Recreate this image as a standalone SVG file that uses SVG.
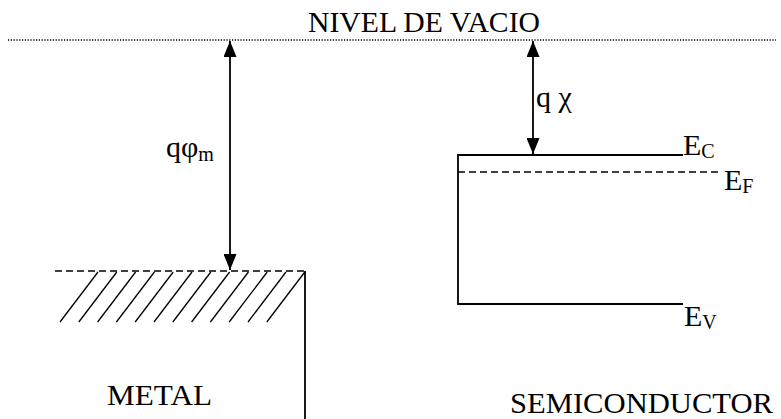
<svg xmlns="http://www.w3.org/2000/svg" width="781" height="419" viewBox="0 0 781 419">
<defs>
<style>
text{font-family:"Liberation Serif","Times New Roman",serif;fill:#000}
.t{font-size:30px}
.s{font-size:20px}
.ln{stroke:#000;stroke-width:1.8;fill:none}
.dash{stroke:#000;stroke-width:1.4;stroke-dasharray:7,4;fill:none}
.dot{stroke:#000;stroke-width:1.4;stroke-dasharray:1.2,1.6;fill:none}
.h{stroke:#000;stroke-width:1.3}
</style>
<marker id="ah" viewBox="0 0 16 13" refX="16" refY="6.5" markerWidth="16" markerHeight="13" markerUnits="userSpaceOnUse" orient="auto-start-reverse">
<path d="M0,0 L16,6.5 L0,13 z" fill="#000"/>
</marker>
</defs>
<rect width="781" height="419" fill="#fff"/>
<g id="vacuum">
<line class="dot" x1="8" y1="40" x2="776" y2="40"/>
<text class="t" x="308" y="32" textLength="232" lengthAdjust="spacingAndGlyphs">NIVEL DE VACIO</text>
</g>
<g id="metal">
<line class="dash" x1="55" y1="271" x2="305" y2="271"/>
<g class="h">
<line x1="60" y1="322" x2="98" y2="272"/>
<line x1="78.8" y1="322" x2="116.8" y2="272"/>
<line x1="97.6" y1="322" x2="135.6" y2="272"/>
<line x1="116.4" y1="322" x2="154.4" y2="272"/>
<line x1="135.2" y1="322" x2="173.2" y2="272"/>
<line x1="154" y1="322" x2="192" y2="272"/>
<line x1="172.8" y1="322" x2="210.8" y2="272"/>
<line x1="191.6" y1="322" x2="229.6" y2="272"/>
<line x1="210.4" y1="322" x2="248.4" y2="272"/>
<line x1="229.2" y1="322" x2="267.2" y2="272"/>
<line x1="248" y1="322" x2="286" y2="272"/>
<line x1="266.8" y1="322" x2="304.8" y2="272"/>
</g>
<line class="ln" x1="305" y1="271" x2="305" y2="419"/>
<text class="t" x="107" y="405" textLength="105" lengthAdjust="spacingAndGlyphs">METAL</text>
</g>
<g id="semiconductor">
<polyline class="ln" points="683,155 458,155 458,304 683,304"/>
<line class="dash" x1="458" y1="172" x2="722" y2="172"/>
<text class="t" x="683" y="155">E<tspan class="s" dy="3">C</tspan></text>
<text class="t" x="724" y="190">E<tspan class="s" dy="3">F</tspan></text>
<text class="t" x="684" y="326">E<tspan class="s" dy="3">V</tspan></text>
<text class="t" x="510" y="413" textLength="263" lengthAdjust="spacingAndGlyphs">SEMICONDUCTOR</text>
</g>
<g id="connectors">
<line class="ln" x1="230" y1="41" x2="230" y2="270" marker-start="url(#ah)" marker-end="url(#ah)"/>
<line class="ln" x1="533" y1="41" x2="533" y2="154" marker-start="url(#ah)" marker-end="url(#ah)"/>
</g>
<g id="labels">
<text class="t" x="166" y="157">qφ<tspan class="s" dy="4">m</tspan></text>
<text class="t" x="536" y="107">q χ</text>
</g>
</svg>
